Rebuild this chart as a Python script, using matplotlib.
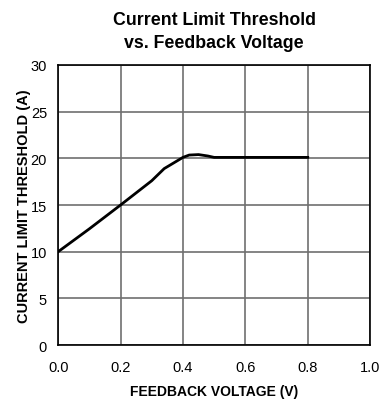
import matplotlib.pyplot as plt

plt.rcParams['font.family'] = ['Liberation Sans', 'DejaVu Sans']

# Data
feedback_v = [0.0, 0.1, 0.2, 0.3, 0.34, 0.37, 0.40, 0.42, 0.45, 0.48, 0.50, 0.60, 0.70, 0.80]
threshold_a = [10.0, 12.45, 15.0, 17.6, 18.9, 19.5, 20.1, 20.35, 20.4, 20.25, 20.1, 20.1, 20.1, 20.1]

x_ticks = [0.0, 0.2, 0.4, 0.6, 0.8, 1.0]
y_ticks = [0, 5, 10, 15, 20, 25, 30]

fig = plt.figure(figsize=(3.8, 4.02), dpi=100)
ax = fig.add_axes([0.153, 0.139, 0.821, 0.697])

ax.plot(feedback_v, threshold_a, color='black', linewidth=2)

ax.set_xlim(0, 1.0)
ax.set_ylim(0, 30)
ax.set_xticks(x_ticks)
ax.set_xticklabels(['%.1f' % t for t in x_ticks])
ax.set_yticks(y_ticks)
ax.tick_params(length=0, labelsize=10.5)
ax.tick_params(axis='x', pad=11)
ax.tick_params(axis='y', pad=8)
ax.grid(True, color='#707070', linewidth=1.2)
for s in ax.spines.values():
    s.set_color('black')
    s.set_linewidth(1.2)

ax.set_title('Current Limit Threshold\nvs. Feedback Voltage', fontsize=12.8,
             fontweight='bold', pad=13, linespacing=1.45)
ax.set_xlabel('FEEDBACK VOLTAGE (V)', fontsize=10, fontweight='bold', labelpad=7)
ax.set_ylabel('CURRENT LIMIT THRESHOLD (A)', fontsize=10.5, fontweight='bold')
ax.yaxis.set_label_coords(-0.087, 0.5)

fig.savefig('out.png', dpi=100)
